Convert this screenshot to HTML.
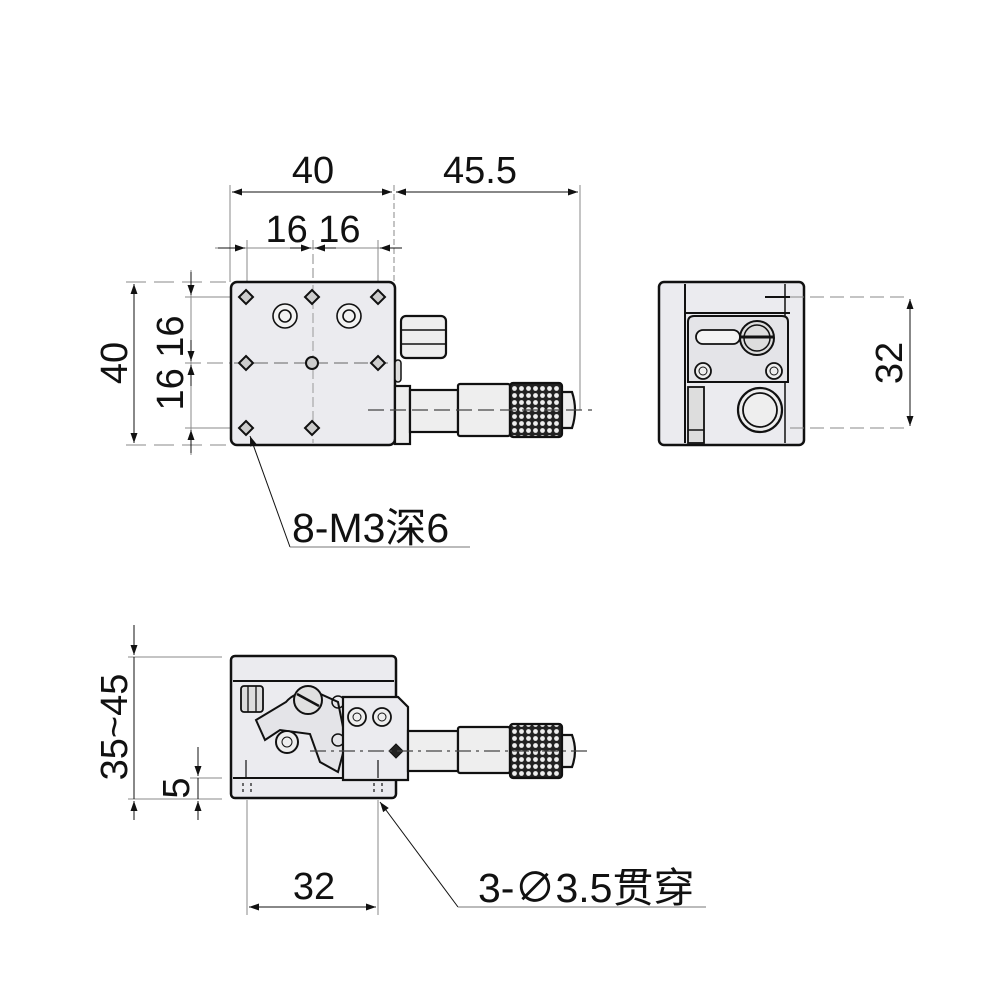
<!DOCTYPE html>
<html><head><meta charset="utf-8"><style>html,body{margin:0;padding:0;background:#fff}svg{display:block}
text{font-family:"Liberation Sans","Noto Sans CJK SC",sans-serif;fill:#111}</style></head><body>
<svg width="1000" height="1000" viewBox="0 0 1000 1000" xmlns="http://www.w3.org/2000/svg">
<defs>
<marker id="a" viewBox="0 0 10 10" refX="10" refY="5" markerWidth="14" markerHeight="10" orient="auto-start-reverse" markerUnits="userSpaceOnUse"><path d="M0,1.5 L10,5 L0,8.5 Z" fill="#111"/></marker>
<pattern id="k" width="7" height="7" patternUnits="userSpaceOnUse"><rect width="7" height="7" fill="#222"/><circle cx="3.5" cy="3.5" r="2.4" fill="#eee"/></pattern>
</defs>
<g stroke="#111" fill="none">
<g stroke-width="1">
<line x1="230" y1="185" x2="230" y2="282" stroke="#888"/>
<line x1="394" y1="185" x2="394" y2="282" stroke="#888" stroke-dasharray="6,3"/>
<line x1="580" y1="185" x2="580" y2="410" stroke="#888"/>
<line x1="232" y1="192" x2="392" y2="192" marker-start="url(#a)" marker-end="url(#a)"/>
<line x1="396" y1="192" x2="578" y2="192" marker-start="url(#a)" marker-end="url(#a)"/>
<line x1="247" y1="240" x2="247" y2="290" stroke="#888"/>
<line x1="313" y1="240" x2="313" y2="445" stroke="#888" stroke-dasharray="10,4"/>
<line x1="378" y1="240" x2="378" y2="290" stroke="#888"/>
<line x1="215" y1="248" x2="400" y2="248" stroke="#888"/>
<line x1="218" y1="248" x2="245" y2="248" marker-end="url(#a)"/>
<line x1="290" y1="248" x2="311" y2="248" marker-end="url(#a)"/>
<line x1="336" y1="248" x2="315" y2="248" marker-end="url(#a)"/>
<line x1="402" y1="248" x2="380" y2="248" marker-end="url(#a)"/>
<line x1="126" y1="282" x2="226" y2="282" stroke="#888" stroke-dasharray="20,8"/>
<line x1="126" y1="445" x2="226" y2="445" stroke="#888" stroke-dasharray="20,8"/>
<line x1="185" y1="297" x2="240" y2="297" stroke="#888"/>
<line x1="185" y1="363" x2="400" y2="363" stroke="#888" stroke-dasharray="16,6"/>
<line x1="185" y1="428" x2="240" y2="428" stroke="#888"/>
<line x1="134" y1="284" x2="134" y2="443" marker-start="url(#a)" marker-end="url(#a)"/>
<line x1="191" y1="270" x2="191" y2="455" stroke="#888"/>
<line x1="191" y1="272" x2="191" y2="295" marker-end="url(#a)"/>
<line x1="191" y1="340" x2="191" y2="361" marker-end="url(#a)"/>
<line x1="191" y1="386" x2="191" y2="365" marker-end="url(#a)"/>
<line x1="191" y1="453" x2="191" y2="430" marker-end="url(#a)"/>
</g>
<rect x="231" y="282" width="164" height="163" rx="6" fill="#ebebef" stroke-width="2.5"/>
<line x1="313" y1="285" x2="313" y2="443" stroke="#999" stroke-width="1" stroke-dasharray="10,4"/>
<line x1="234" y1="363" x2="392" y2="363" stroke="#666" stroke-width="1" stroke-dasharray="14,6"/>
<g fill="#ccc" stroke-width="2">
<path d="M246,290 l7,7 -7,7 -7,-7z"/><path d="M312,290 l7,7 -7,7 -7,-7z"/><path d="M378,290 l7,7 -7,7 -7,-7z"/>
<path d="M246,356 l7,7 -7,7 -7,-7z"/><path d="M378,356 l7,7 -7,7 -7,-7z"/>
<path d="M246,421 l7,7 -7,7 -7,-7z"/><path d="M312,421 l7,7 -7,7 -7,-7z"/>
<circle cx="312" cy="363" r="6"/>
</g>
<g stroke-width="1.6" fill="#f2f2f2"><circle cx="285" cy="316" r="12"/><circle cx="285" cy="316" r="6"/><circle cx="349" cy="316" r="12"/><circle cx="349" cy="316" r="6"/></g>
<rect x="401" y="316" width="45" height="42" rx="5" fill="#eee" stroke-width="2.2"/>
<line x1="401" y1="330" x2="446" y2="330" stroke-width="1.5"/><line x1="401" y1="344" x2="446" y2="344" stroke-width="1.5"/>
<rect x="395" y="360" width="6" height="22" rx="3" fill="#ddd" stroke-width="1.5"/>
<g stroke-width="2.2" fill="#eee">
<rect x="395" y="386" width="15" height="58"/>
<rect x="410" y="390" width="48" height="42"/>
<rect x="458" y="384" width="52" height="52" rx="2"/>
<rect x="510" y="383" width="52" height="54" rx="3" fill="url(#k)"/>
<path d="M562,392 h10 q6,18 0,36 h-10z"/>
</g>
<line x1="368" y1="410" x2="592" y2="410" stroke="#444" stroke-width="1.2" stroke-dasharray="16,6"/>
<line x1="290" y1="547" x2="250" y2="436" stroke-width="1" marker-end="url(#a)"/>
<line x1="290" y1="547" x2="470" y2="547" stroke="#777" stroke-width="1"/>

<rect x="659" y="282" width="145" height="163" rx="5" fill="#ebebef" stroke-width="2.5"/>
<line x1="685" y1="284" x2="685" y2="443" stroke-width="2"/>
<line x1="685" y1="313" x2="790" y2="313" stroke-width="2"/>
<line x1="785" y1="284" x2="785" y2="443" stroke-width="1.5"/>
<path d="M688,322 q0,-6 6,-6 h88 q6,0 6,6 v60 h-100z" fill="#e4e4e8" stroke-width="2"/>
<rect x="696" y="330" width="44" height="14" rx="7" fill="#f4f4f4" stroke-width="1.8"/>
<circle cx="757" cy="338" r="17" fill="#ddd" stroke-width="2"/><circle cx="757" cy="338" r="13" stroke-width="1.5"/>
<line x1="740" y1="337" x2="774" y2="337" stroke-width="3"/>
<circle cx="703" cy="371" r="8" fill="#eee" stroke-width="1.8"/><circle cx="703" cy="371" r="4"/>
<circle cx="774" cy="371" r="8" fill="#eee" stroke-width="1.8"/><circle cx="774" cy="371" r="4"/>
<rect x="688" y="387" width="16" height="56" stroke-width="1.8" fill="#ddd"/>
<line x1="688" y1="430" x2="704" y2="430" stroke-width="1.5"/>
<circle cx="760" cy="410" r="22" fill="#eee" stroke-width="2.2"/><circle cx="760" cy="410" r="17" stroke-width="1.8"/>
<g stroke-width="1" stroke="#888">
<line x1="790" y1="297" x2="908" y2="297" stroke-dasharray="14,6"/>
<line x1="790" y1="428" x2="908" y2="428" stroke-dasharray="14,6"/>
</g>
<line x1="765" y1="297" x2="790" y2="297" stroke-width="2"/>
<line x1="910" y1="299" x2="910" y2="426" stroke-width="1" marker-start="url(#a)" marker-end="url(#a)"/>

<g stroke-width="1" stroke="#888">
<line x1="128" y1="657" x2="222" y2="657"/><line x1="128" y1="799" x2="222" y2="799"/>
<line x1="190" y1="778" x2="222" y2="778"/>
<line x1="247" y1="800" x2="247" y2="915"/><line x1="378" y1="800" x2="378" y2="915"/>
</g>
<line x1="134" y1="625" x2="134" y2="655" stroke-width="1" marker-end="url(#a)"/>
<line x1="134" y1="657" x2="134" y2="799" stroke-width="1"/>
<line x1="134" y1="820" x2="134" y2="801" stroke-width="1" marker-end="url(#a)"/>
<line x1="198" y1="747" x2="198" y2="776" stroke-width="1" marker-end="url(#a)"/>
<line x1="198" y1="778" x2="198" y2="799" stroke-width="1"/>
<line x1="198" y1="820" x2="198" y2="801" stroke-width="1" marker-end="url(#a)"/>
<line x1="249" y1="907" x2="376" y2="907" stroke-width="1" marker-start="url(#a)" marker-end="url(#a)"/>
<rect x="231" y="656" width="165" height="142" rx="4" fill="#ebebef" stroke-width="2.5"/>
<line x1="233" y1="681" x2="394" y2="681" stroke-width="2"/>
<line x1="233" y1="778" x2="394" y2="778" stroke-width="2"/>
<rect x="241" y="686" width="22" height="26" rx="3" fill="#ddd" stroke-width="1.8"/>
<line x1="248" y1="686" x2="248" y2="712" stroke-width="1.3"/><line x1="256" y1="686" x2="256" y2="712" stroke-width="1.3"/>
<path d="M256,720 l30,-18 q10,-12 30,-10 l22,10 l8,40 l-8,30 l-18,-10 l-10,-28 l-30,-4 l-15,10 z" fill="#e4e4e8" stroke-width="2"/>
<circle cx="308" cy="700" r="14" fill="#e0e0e0" stroke-width="2"/>
<line x1="297" y1="694" x2="319" y2="706" stroke-width="2.5"/>
<circle cx="287" cy="742" r="11" fill="#eee" stroke-width="2"/><circle cx="287" cy="742" r="5"/>
<circle cx="338" cy="702" r="6" stroke-width="1.5"/><circle cx="338" cy="740" r="6" stroke-width="1.5"/>
<path d="M343,697 h55 l10,10 v73 h-65 z" fill="#ebebef" stroke-width="2.2"/>
<circle cx="357" cy="717" r="9" fill="#eee" stroke-width="1.8"/><circle cx="357" cy="717" r="4"/>
<circle cx="382" cy="717" r="9" fill="#eee" stroke-width="1.8"/><circle cx="382" cy="717" r="4"/>
<path d="M396,744 l7,7 -7,7 -7,-7z" fill="#222" stroke-width="1"/>
<g stroke-width="1.2"><line x1="246" y1="760" x2="246" y2="778"/><line x1="378" y1="760" x2="378" y2="778"/>
<line x1="243" y1="783" x2="243" y2="795" stroke-dasharray="3,3"/><line x1="251" y1="783" x2="251" y2="795" stroke-dasharray="3,3"/>
<line x1="374" y1="783" x2="374" y2="795" stroke-dasharray="3,3"/><line x1="382" y1="783" x2="382" y2="795" stroke-dasharray="3,3"/></g>
<g stroke-width="2.2" fill="#eee">
<rect x="408" y="731" width="50" height="40"/>
<rect x="458" y="727" width="52" height="46" rx="2"/>
<rect x="510" y="724" width="52" height="54" rx="3" fill="url(#k)"/>
<path d="M562,735 h10 q6,16 0,32 h-10z"/>
</g>
<line x1="310" y1="751" x2="592" y2="751" stroke="#444" stroke-width="1.2" stroke-dasharray="16,5,3,5"/>
<line x1="458" y1="907" x2="380" y2="802" stroke-width="1" marker-end="url(#a)"/>
<line x1="458" y1="907" x2="706" y2="907" stroke="#777" stroke-width="1"/>
</g>
<g font-size="38">
<text x="313" y="183" text-anchor="middle">40</text>
<text x="480" y="183" text-anchor="middle">45.5</text>
<text x="313" y="242" text-anchor="middle">16 16</text>
<text transform="translate(127,363) rotate(-90)" text-anchor="middle">40</text>
<text transform="translate(183,363) rotate(-90)" text-anchor="middle">16 16</text>
<text transform="translate(902,363) rotate(-90)" text-anchor="middle">32</text>
<text transform="translate(127,727) rotate(-90)" text-anchor="middle">35~45</text>
<text transform="translate(189,788) rotate(-90)" text-anchor="middle">5</text>
<text x="314" y="899" text-anchor="middle">32</text>
</g>
<g font-size="41">
<text x="292" y="542">8-M3深6</text>
<text x="478" y="902">3-∅3.5贯穿</text>
</g>
</svg>
</body></html>
